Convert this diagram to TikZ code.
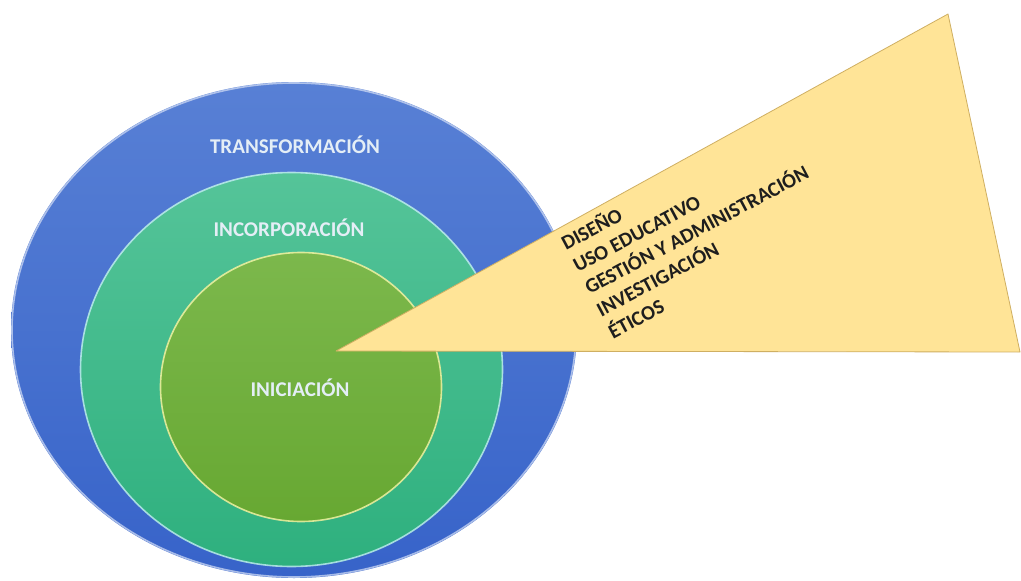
\documentclass[tikz,border=0pt]{standalone}
\usepackage{fontspec}
\setmainfont{Carlito}
\definecolor{blueT}{HTML}{5880D5}
\definecolor{blueB}{HTML}{3763C9}
\definecolor{greenT}{HTML}{55C499}
\definecolor{greenB}{HTML}{2EB07E}
\definecolor{innerT}{HTML}{7CB84C}
\definecolor{innerB}{HTML}{67A832}
\definecolor{tri}{HTML}{FFE497}
\definecolor{triEdge}{HTML}{CFAF62}
\definecolor{lbl}{HTML}{E4EEF6}
\definecolor{dark}{HTML}{1E1E1E}
\tikzset{
  ringlabel/.style={font=\bfseries\fontsize{21}{21}\selectfont, text=lbl, inner sep=0pt},
  trilabel/.style={font=\bfseries\fontsize{20.5}{25}\selectfont, text=dark, inner sep=0pt, align=left, anchor=north west, rotate=28},
  rim/.style={line width=1.6pt, opacity=0.75}
}
\begin{document}
\begin{tikzpicture}[x=1pt,y=-1pt]
\useasboundingbox (0,0) rectangle (1021,581);
\fill[white] (0,0) rectangle (1021,581);
% outer blue ellipse
\shade[top color=blueT, bottom color=blueB] (294,330) ellipse [x radius=283pt, y radius=248pt];
\draw[rim, white!70!blueT] (294,330) ellipse [x radius=282pt, y radius=247pt];
% green ellipse
\shade[top color=greenT, bottom color=greenB] (291.5,369.5) ellipse [x radius=211.5pt, y radius=197.5pt];
\draw[rim, cyan!20!white] (291.5,369.5) ellipse [x radius=211pt, y radius=197pt];
% inner circle
\shade[top color=innerT, bottom color=innerB] (301,387) ellipse [x radius=141pt, y radius=135pt];
\draw[rim, yellow!30!white] (301,387) ellipse [x radius=140.5pt, y radius=134.5pt];
% labels
\node[ringlabel] (transf) at (295,145) {TRANSFORMACIÓN};
\node[ringlabel] (incorp) at (289,228) {INCORPORACIÓN};
\node[ringlabel] (inic) at (300,388) {INICIACIÓN};
% triangle callout
\coordinate (apex) at (336,351);
\coordinate (top) at (948,14);
\coordinate (right) at (1020,352);
\filldraw[fill=tri, draw=triEdge, line width=0.8pt, line join=round] (apex) -- (top) -- (right) -- cycle;
\node[trilabel] (items) at (558,236) {DISEÑO\\USO EDUCATIVO\\GESTIÓN Y ADMINISTRACIÓN\\INVESTIGACIÓN\\ÉTICOS};
\end{tikzpicture}
\end{document}
